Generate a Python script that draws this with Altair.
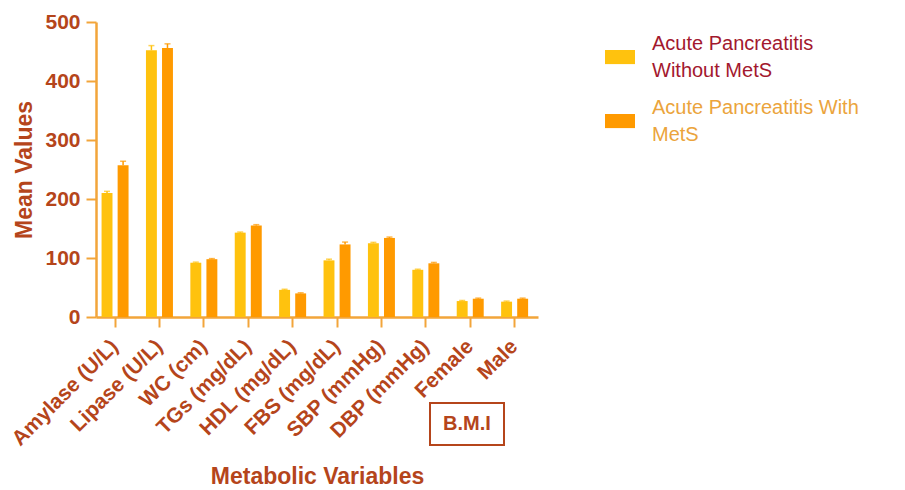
import altair as alt
import pandas as pd

categories = ["Amylase (U/L)", "Lipase (U/L)", "WC (cm)", "TGs (mg/dL)", "HDL (mg/dL)",
              "FBS (mg/dL)", "SBP (mmHg)", "DBP (mmHg)", "Female", "Male"]
groups = ["Acute Pancreatitis Without MetS", "Acute Pancreatitis With MetS"]
without_mets = [210, 452, 92, 143, 46, 96, 125, 80, 27, 26]
with_mets = [257, 456, 98, 155, 40, 123, 134, 91, 31, 31]
err_without = [3, 8, 1, 1, 1, 2, 1.5, 1, 1, 1]
err_with = [7, 7, 1, 1.5, 1, 4, 1.5, 1.5, 1, 1]

rows = []
for i, c in enumerate(categories):
    rows.append({"cat": c, "group": groups[0], "value": without_mets[i], "upper": without_mets[i] + err_without[i]})
    rows.append({"cat": c, "group": groups[1], "value": with_mets[i], "upper": with_mets[i] + err_with[i]})
df = pd.DataFrame(rows)

brown = "#B5451B"
axis_orange = "#F2A53A"
colors = ["#FFC20E", "#FF9A00"]

x = alt.X("cat:N", sort=categories, title="Metabolic Variables",
          scale=alt.Scale(paddingInner=0.392, paddingOuter=0.174, align=0.36),
          axis=alt.Axis(labelAngle=-45, labelAlign="right", labelBaseline="middle",
                        labelFontSize=21, labelFontWeight="bold", labelColor=brown,
                        labelFont="Liberation Sans", labelPadding=16,
                        titleFontSize=23, titleFontWeight="bold", titleColor=brown,
                        titleFont="Liberation Sans", titleY=148,
                        domainColor=axis_orange, domainWidth=2.5,
                        tickColor=axis_orange, tickWidth=2, tickSize=10))
xo = alt.XOffset("group:N", sort=groups, scale=alt.Scale(paddingInner=0.32))
y_scale = alt.Scale(domain=[0, 500])

color = alt.Color("group:N", sort=groups,
                  scale=alt.Scale(domain=groups, range=colors),
                  legend=alt.Legend(title=None, orient="none", legendX=509, legendY=7,
                                    symbolType="M-1,0.4H1V1.34H-1Z", symbolSize=900,
                                    symbolStrokeWidth=0, labelFontSize=20,
                                    labelFont="Liberation Sans", labelLimit=400,
                                    labelOffset=17, rowPadding=12,
                                    labelExpr="datum.label == 'Acute Pancreatitis Without MetS' ? ['Acute Pancreatitis', 'Without MetS'] : ['Acute Pancreatitis With', 'MetS']",
                                    labelColor=alt.ExprRef("datum.label == 'Acute Pancreatitis Without MetS' ? '#A3182E' : '#EBA43C'")))

base = alt.Chart(df)

bars = base.mark_bar().encode(
    x=x, xOffset=xo,
    y=alt.Y("value:Q", scale=y_scale, title="Mean Values",
            axis=alt.Axis(values=[0, 100, 200, 300, 400, 500], grid=False,
                          labelFontSize=21, labelFontWeight="bold", labelColor=brown,
                          labelFont="Liberation Sans", labelPadding=6,
                          titleFontSize=23, titleFontWeight="bold", titleColor=brown,
                          titleFont="Liberation Sans", titlePadding=8,
                          domainColor=axis_orange, domainWidth=2.5,
                          tickColor=axis_orange, tickWidth=2, tickSize=10)),
    color=color,
)

err = base.mark_rule(strokeWidth=1.5).encode(
    x=alt.X("cat:N", sort=categories), xOffset=xo,
    y=alt.Y("value:Q", scale=y_scale), y2="upper:Q",
    color=alt.Color("group:N", sort=groups, scale=alt.Scale(domain=groups, range=colors), legend=None),
)
caps = base.mark_tick(size=6, thickness=1.5, orient="horizontal").encode(
    x=alt.X("cat:N", sort=categories), xOffset=xo,
    y=alt.Y("upper:Q", scale=y_scale),
    color=alt.Color("group:N", sort=groups, scale=alt.Scale(domain=groups, range=colors), legend=None),
)

note = pd.DataFrame({"label": ["B.M.I"]})
box = alt.Chart(note).mark_rect(fill="white", stroke=brown, strokeWidth=2).encode(
    x=alt.value(334), x2=alt.value(408), y=alt.value(381), y2=alt.value(423))
note_text = alt.Chart(note).mark_text(fontSize=20, fontWeight="bold", color=brown,
                                      font="Liberation Sans").encode(
    x=alt.value(371), y=alt.value(402), text="label:N")

chart = alt.layer(bars, err, caps, box, note_text).properties(
    width=442, height=295,
    autosize=alt.AutoSizeParams(type="none"),
    padding={"left": 88, "top": 14, "right": 359, "bottom": 172},
).configure(
    view={"stroke": None},
    axis={"labelOverlap": False},
    style={"guide-label": {"lineHeight": 27}},
)

chart.save("out.html", embed_options={"renderer": "svg", "actions": False})
